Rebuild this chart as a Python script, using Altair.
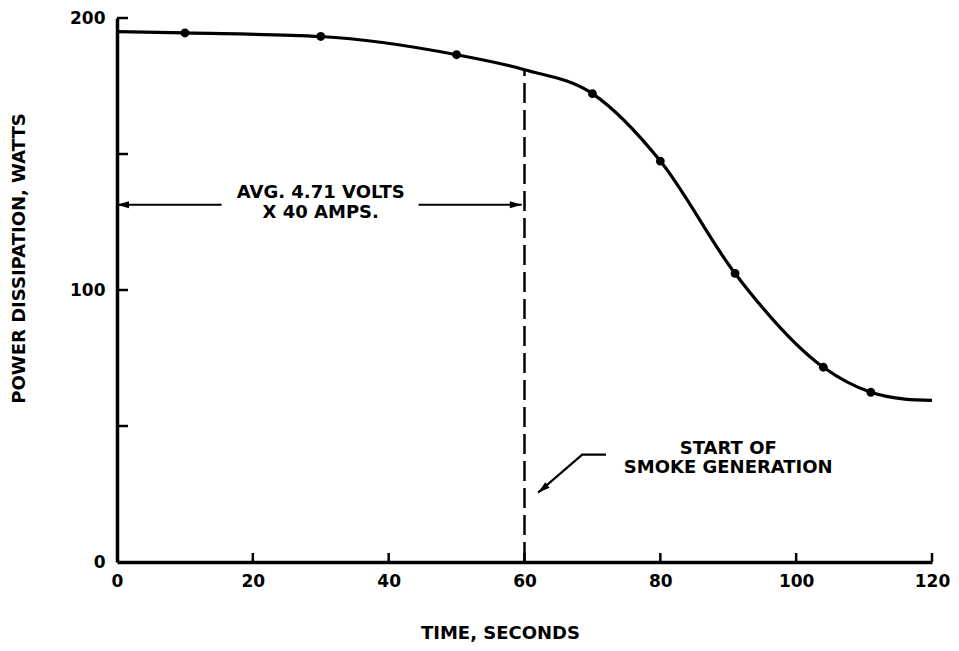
import altair as alt
import pandas as pd

# ---- data ----
curve_t = [0, 10, 30, 50, 60, 70, 80, 91, 104, 111, 116, 120]
curve_w = [195, 194.5, 193.2, 186.5, 181, 172.2, 147.4, 106.1, 71.6, 62.4, 59.9, 59.4]
dot_t = [10, 30, 50, 70, 80, 91, 104, 111]
dot_w = [194.5, 193.2, 186.5, 172.2, 147.4, 106.1, 71.6, 62.4]
x_ticks = [0, 20, 40, 60, 80, 100, 120]
x_minor = [20, 40, 60, 80, 100, 120]
y_ticks = [50, 100, 150, 200]
y_labels = [0, 100, 200]
smoke_t = 60
smoke_w = 181
avg_lines = ["AVG. 4.71 VOLTS", "X 40 AMPS."]
avg_t = [30, 30]
avg_w = [135.5, 128.2]
smoke_lines = ["START OF", "SMOKE GENERATION"]
smoke_txt_t = [90, 90]
smoke_txt_w = [41.5, 34.5]
arrow_left_t = [0, 15.4]
arrow_right_t = [44.4, 59.6]
arrow_w = 131.3
leader_t = [72, 68.5, 62]
leader_w = [39.5, 39.5, 25.5]

FONT = "DejaVu Sans"
XS = alt.Scale(domain=[0, 120], nice=False, zero=False)
YS = alt.Scale(domain=[0, 200], nice=False, zero=False)

XA = alt.Axis(
    values=x_ticks, ticks=False, grid=False, domainColor="black",
    domainWidth=3.5, labelFont=FONT, labelFontWeight="bold",
    labelFontSize=17, labelColor="black", labelPadding=11,
    labelFlush=False, labelOverlap=False,
    titleFont=FONT, titleFontWeight="bold",
    titleFontSize=18, titleColor="black", titleX=383, titleY=71,
    titleBaseline="middle", titleAlign="center",
)
YA = alt.Axis(
    values=y_labels, ticks=False, grid=False, domainColor="black",
    domainWidth=3.5, labelFont=FONT, labelFontWeight="bold",
    labelFontSize=17, labelColor="black", labelPadding=12,
    labelFlush=False, labelOverlap=False,
    titleFont=FONT, titleFontWeight="bold", titleFontSize=18,
    titleColor="black", titleAngle=270, titleX=-98, titleY=240,
    titleBaseline="middle", titleAlign="center",
)
XT = "TIME, SECONDS"
YT = "POWER DISSIPATION, WATTS"


def X(f):
    return alt.X(f, type="quantitative", scale=XS, axis=XA, title=XT)


def Y(f):
    return alt.Y(f, type="quantitative", scale=YS, axis=YA, title=YT)


curve_df = pd.DataFrame({"t": curve_t, "w": curve_w})
dots_df = pd.DataFrame({"t": dot_t, "w": dot_w})

base = alt.Chart(curve_df).mark_line(
    color="black", strokeWidth=3.2, interpolate="monotone"
).encode(x=X("t"), y=Y("w"))

dots = alt.Chart(dots_df).mark_circle(color="black", size=78, opacity=1).encode(
    x=X("t"), y=Y("w")
)

xt = alt.Chart(pd.DataFrame({"t": x_minor})).mark_rule(
    color="black", strokeWidth=2.5
).encode(x=X("t"), y=alt.value(544), y2=alt.value(535))

yt = alt.Chart(pd.DataFrame({"w": y_ticks})).mark_rule(
    color="black", strokeWidth=2.5
).encode(y=Y("w"), x=alt.value(0), x2=alt.value(11))

dash = alt.Chart(pd.DataFrame({"t": [smoke_t], "w0": [0], "w1": [smoke_w]})).mark_rule(
    color="black", strokeWidth=2.5, strokeDash=[20, 7]
).encode(x=X("t"), y=Y("w0"), y2=alt.Y2("w1"))

arrows_df = pd.DataFrame({
    "a": [arrow_left_t[0], arrow_right_t[0]],
    "b": [arrow_left_t[1], arrow_right_t[1]],
    "w": [arrow_w, arrow_w],
})
arrows = alt.Chart(arrows_df).mark_rule(color="black", strokeWidth=2).encode(
    x=X("a"), x2=alt.X2("b"), y=Y("w")
)

head_l = alt.Chart(pd.DataFrame({"t": [arrow_left_t[0]], "w": [arrow_w]})).mark_point(
    shape="M 0 0 L 2.4 -0.7 L 2.4 0.7 Z", filled=True, color="black",
    size=100, opacity=1, strokeWidth=0
).encode(x=X("t"), y=Y("w"))

head_r = alt.Chart(pd.DataFrame({"t": [arrow_right_t[1]], "w": [arrow_w]})).mark_point(
    shape="M 0 0 L -2.4 -0.7 L -2.4 0.7 Z", filled=True, color="black",
    size=100, opacity=1, strokeWidth=0
).encode(x=X("t"), y=Y("w"))

leader = alt.Chart(pd.DataFrame({"t": leader_t, "w": leader_w, "o": [0, 1, 2]})).mark_line(
    color="black", strokeWidth=2.2
).encode(x=X("t"), y=Y("w"), order="o:Q")

head_d = alt.Chart(pd.DataFrame({"t": [leader_t[-1]], "w": [leader_w[-1]]})).mark_point(
    shape="M 0 0 L -0.7 2.4 L 0.7 2.4 Z", filled=True, color="black",
    size=100, opacity=1, strokeWidth=0, angle=231
).encode(x=X("t"), y=Y("w"))

avg_txt = alt.Chart(pd.DataFrame({"t": avg_t, "w": avg_w, "s": avg_lines})).mark_text(
    font=FONT, fontWeight="bold", fontSize=18, color="black",
    align="center", baseline="middle"
).encode(x=X("t"), y=Y("w"), text="s:N")

smoke_txt = alt.Chart(pd.DataFrame({"t": smoke_txt_t, "w": smoke_txt_w, "s": smoke_lines})).mark_text(
    font=FONT, fontWeight="bold", fontSize=18, color="black",
    align="center", baseline="middle"
).encode(x=X("t"), y=Y("w"), text="s:N")

chart = alt.layer(
    base, dots, xt, yt, dash, arrows, head_l, head_r, leader, head_d,
    avg_txt, smoke_txt
).properties(
    width=815, height=544,
    padding={"left": 109, "top": 10, "right": 19, "bottom": 81},
    autosize=alt.AutoSizeParams(type="none"),
    background="white",
).configure_view(stroke=None)

chart.save("out.html", embed_options={"renderer": "svg", "actions": False})
